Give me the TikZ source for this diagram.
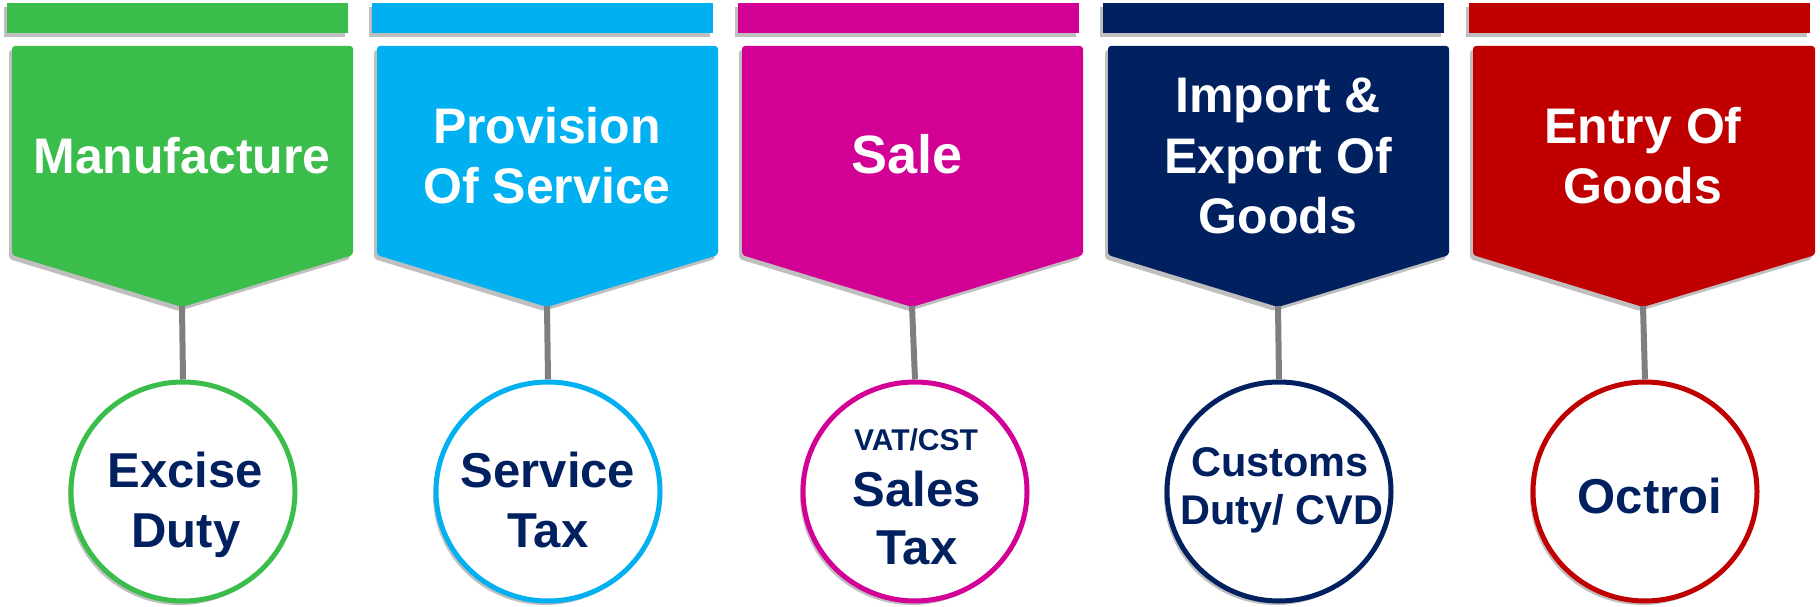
\documentclass[tikz,border=0pt]{standalone}
\usepackage{fontspec}
\setmainfont{Liberation Sans}
\usetikzlibrary{shapes.geometric,shadows}
\definecolor{cgreen}{HTML}{3BBD4B}
\definecolor{ccyan}{HTML}{00B0F0}
\definecolor{cpink}{HTML}{D20094}
\definecolor{cnavy}{HTML}{002060}
\definecolor{cred}{HTML}{C00000}
\definecolor{cstem}{HTML}{7F7F7F}
\tikzset{
  shad/.style={drop shadow={shadow xshift=-3pt,shadow yshift=-4pt,opacity=0.25,fill=black}},
  topbar/.style={fill=#1,draw=none,shad,rectangle,inner sep=0pt,minimum width=341pt,minimum height=30pt},
  banner/.style={fill=#1,draw=none,shad,rounded corners=3pt},
  stemline/.style={draw=cstem,line width=6pt},
  taxcircle/.style={ellipse,draw=#1,line width=5pt,fill=white,shad,inner sep=0pt,minimum width=224pt,minimum height=219pt},
  htxt/.style={anchor=base,text=white,inner sep=0pt,font=\fontsize{50}{60}\selectfont\bfseries},
  htxtbig/.style={anchor=base,text=white,inner sep=0pt,font=\fontsize{54}{60}\selectfont\bfseries},
  ctxt/.style={anchor=base,text=cnavy,inner sep=0pt,font=\fontsize{49}{60}\selectfont\bfseries},
  ctxtsmall/.style={anchor=base,text=cnavy,inner sep=0pt,font=\fontsize{30}{36}\selectfont\bfseries},
  ctxtmid/.style={anchor=base,text=cnavy,inner sep=0pt,font=\fontsize{41.5}{48}\selectfont\bfseries},
}
\begin{document}
\begin{tikzpicture}[x=1pt,y=-1pt]
\useasboundingbox (0,0) rectangle (1820,607);

% ---------- column 1 : Manufacture ----------
\node[topbar=cgreen] (bar1) at (177.5,18) {};
\path[banner=cgreen] (12,46) -- (353,46) -- (353,255) -- (182,307) -- (12,255) -- cycle;
\coordinate (tip1) at (182,306);
\node[htxt] (h1) at (182,173) {Manufacture};
\node[taxcircle=cgreen] (c1) at (183,491.5) {};
\draw[stemline] (tip1) -- (c1.north);
\node[ctxt] (t1a) at (185,487.5) {Excise};
\node[ctxt] (t1b) at (186,547.5) {Duty};

% ---------- column 2 : Provision Of Service ----------
\node[topbar=ccyan] (bar2) at (542.5,18) {};
\path[banner=ccyan] (377,46) -- (718,46) -- (718,255) -- (547,307) -- (377,255) -- cycle;
\coordinate (tip2) at (547,306);
\node[htxt] (h2a) at (547,143) {Provision};
\node[htxt] (h2b) at (547,203) {Of Service};
\node[taxcircle=ccyan] (c2) at (548,491.5) {};
\draw[stemline] (tip2) -- (c2.north);
\node[ctxt] (t2a) at (548,487.5) {Service};
\node[ctxt] (t2b) at (548,547.5) {Tax};

% ---------- column 3 : Sale ----------
\node[topbar=cpink] (bar3) at (908.5,18) {};
\path[banner=cpink] (742,46) -- (1083,46) -- (1083,255) -- (912,307) -- (742,255) -- cycle;
\coordinate (tip3) at (912,306);
\node[htxtbig] (h3) at (907,173) {Sale};
\node[taxcircle=cpink] (c3) at (915,491.5) {};
\draw[stemline] (tip3) -- (c3.north);
\node[ctxtsmall] (t3a) at (916,450) {VAT/CST};
\node[ctxt] (t3b) at (917,506) {Sales};
\node[ctxt] (t3c) at (917,564) {Tax};

% ---------- column 4 : Import & Export Of Goods ----------
\node[topbar=cnavy] (bar4) at (1273.5,18) {};
\path[banner=cnavy] (1108,46) -- (1449,46) -- (1449,255) -- (1278,307) -- (1108,255) -- cycle;
\coordinate (tip4) at (1278,306);
\node[htxt] (h4a) at (1278,113) {Import \&};
\node[htxt] (h4b) at (1278,173) {Export Of};
\node[htxt] (h4c) at (1278,233) {Goods};
\node[taxcircle=cnavy] (c4) at (1279,491.5) {};
\draw[stemline] (tip4) -- (c4.north);
\node[ctxtmid] (t4a) at (1280,476) {Customs};
\node[ctxtmid] (t4b) at (1282,524) {Duty/ CVD};

% ---------- column 5 : Entry Of Goods ----------
\node[topbar=cred] (bar5) at (1639.5,18) {};
\path[banner=cred] (1473,46) -- (1815,46) -- (1815,255) -- (1643,307) -- (1473,255) -- cycle;
\coordinate (tip5) at (1643,306);
\node[htxt] (h5a) at (1643,143) {Entry Of};
\node[htxt] (h5b) at (1643,203) {Goods};
\node[taxcircle=cred] (c5) at (1645,491.5) {};
\draw[stemline] (tip5) -- (c5.north);
\node[ctxt] (t5) at (1650,513) {Octroi};
\end{tikzpicture}
\end{document}
